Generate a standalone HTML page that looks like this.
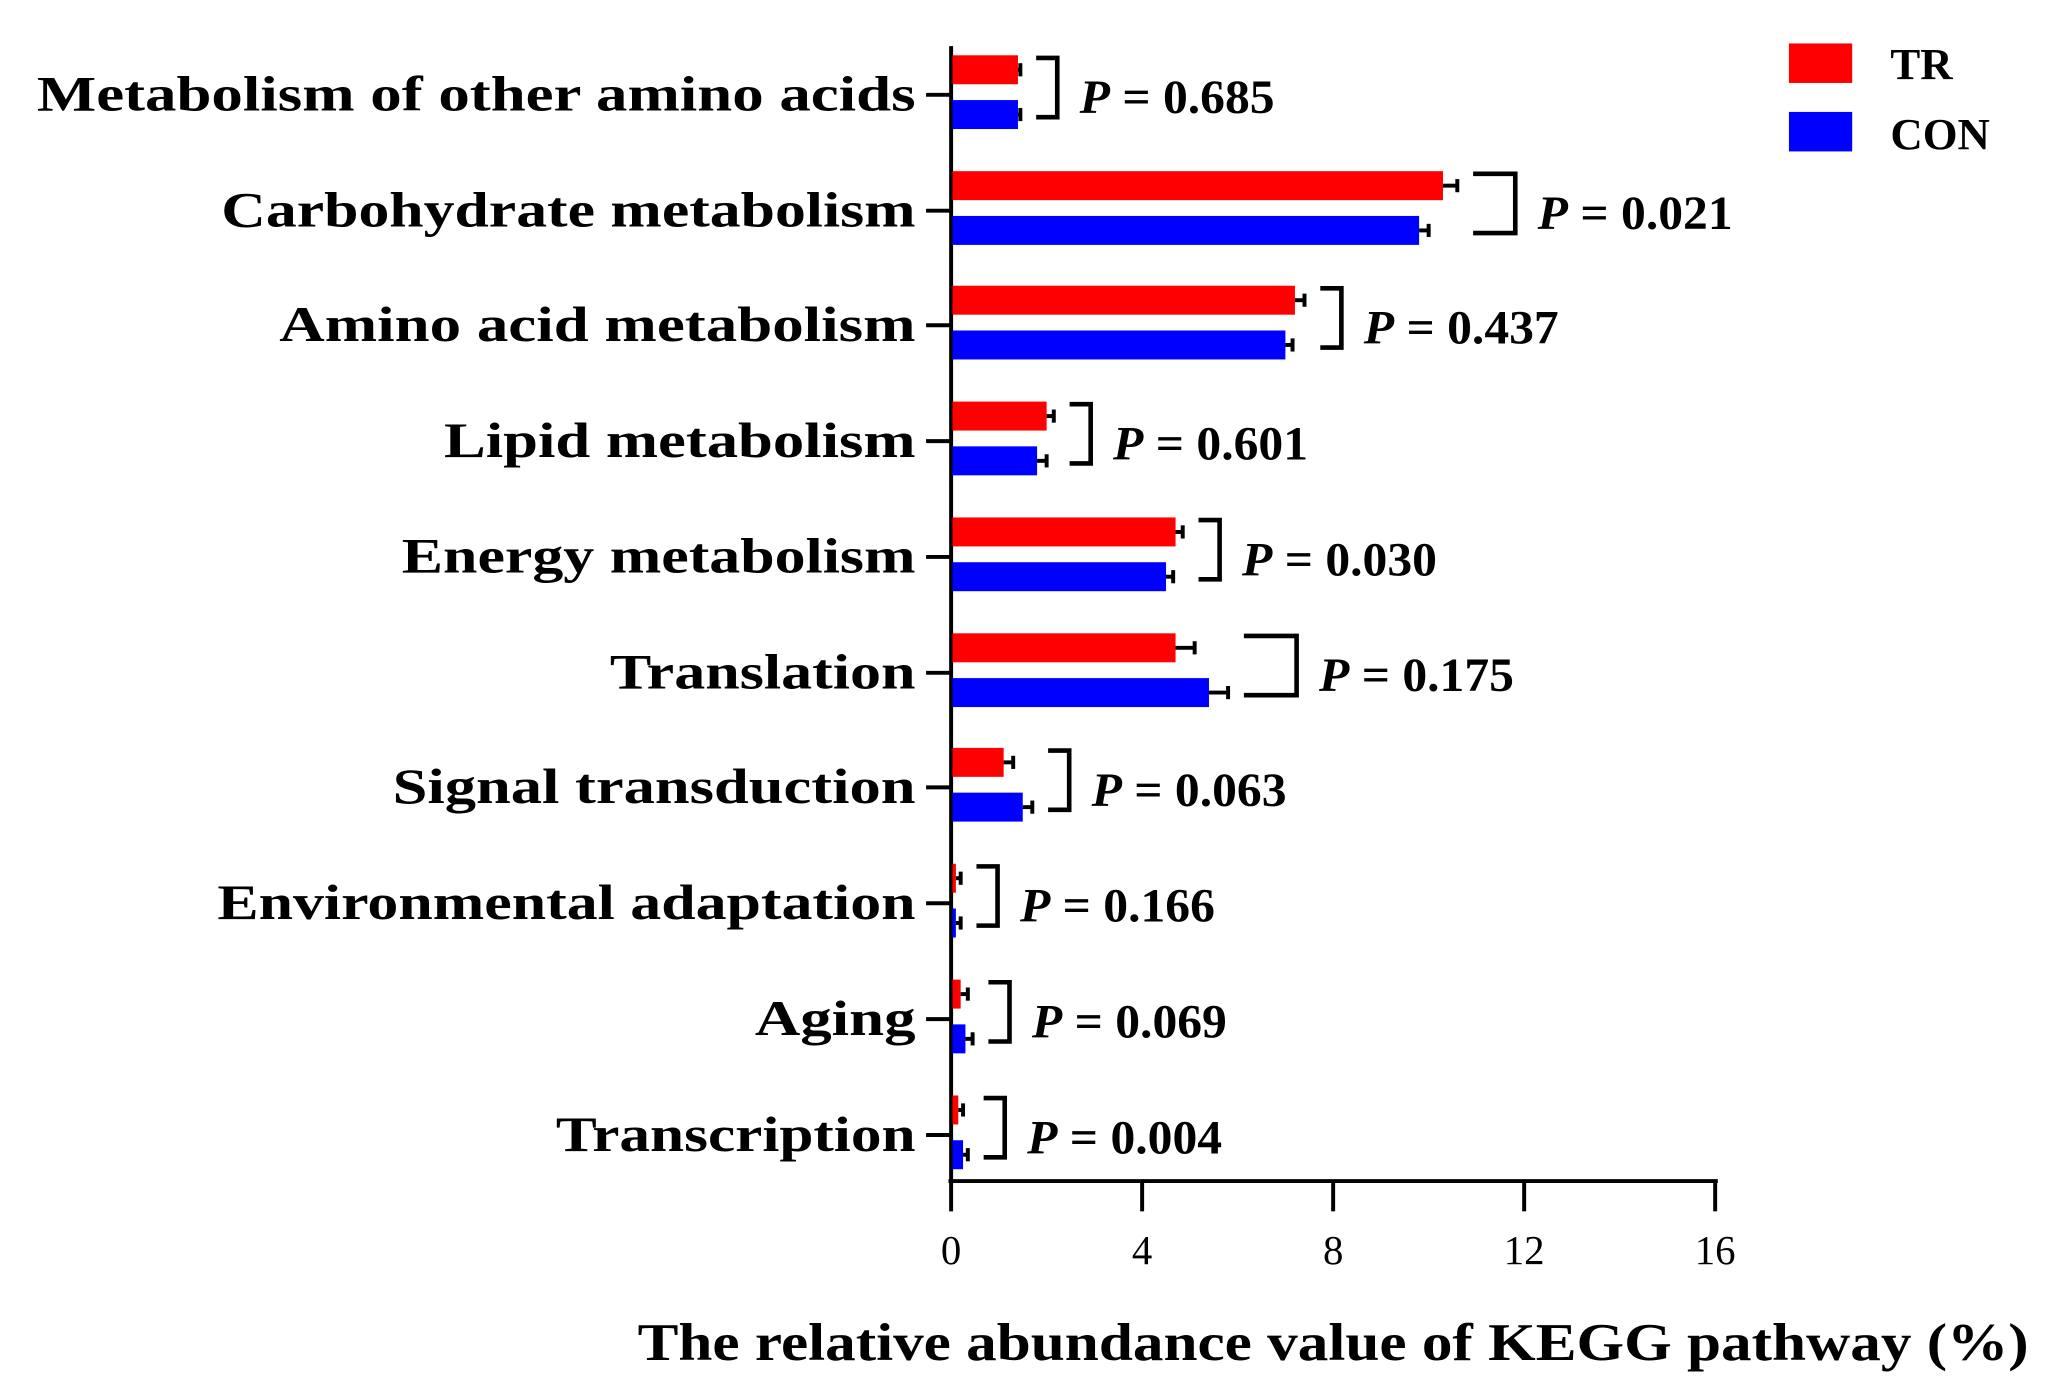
<!DOCTYPE html>
<html><head><meta charset="utf-8"><style>html,body{margin:0;padding:0;background:#fff}svg{display:block}</style></head>
<body>
<svg width="2059" height="1397" viewBox="0 0 1563 1061" preserveAspectRatio="none" xmlns="http://www.w3.org/2000/svg">
<g font-family="Liberation Serif, serif" fill="#000">
<line x1="722" y1="35" x2="722" y2="899" stroke="#000" stroke-width="3"/>
<line x1="720" y1="897" x2="1304" y2="897" stroke="#000" stroke-width="3"/>
<g stroke="#000" stroke-width="3">
<line x1="722" y1="897" x2="722" y2="920"/><line x1="867" y1="897" x2="867" y2="920"/><line x1="1012" y1="897" x2="1012" y2="920"/><line x1="1157" y1="897" x2="1157" y2="920"/><line x1="1302" y1="897" x2="1302" y2="920"/>
</g>
<g font-size="31" text-anchor="middle">
<text x="722" y="960">0</text><text x="867" y="960">4</text><text x="1012" y="960">8</text><text x="1157" y="960">12</text><text x="1302" y="960">16</text>
</g>
<text x="484" y="1033" font-size="40" font-weight="bold" textLength="1056" lengthAdjust="spacingAndGlyphs">The relative abundance value of KEGG pathway (%)</text>
<rect x="1358" y="33" width="48" height="30" fill="#ff0000"/>
<rect x="1358" y="85" width="48" height="30" fill="#0000ff"/>
<text x="1435" y="60" font-size="34" font-weight="bold">TR</text>
<text x="1435" y="113" font-size="34" font-weight="bold">CON</text>
<g id="rows"></g>
</g>
</svg>
<script>
var rows=[
["Metabolism of other amino acids",28,72,1.4,1.4,"0.685"],
["Carbohydrate metabolism",168,160,10.3,9.8,"0.021"],
["Amino acid metabolism",212,247,7.2,7.0,"0.437"],
["Lipid metabolism",337,335,2.0,1.8,"0.601"],
["Energy metabolism",305,423,4.7,4.5,"0.030"],
["Translation",463,511,4.7,5.4,"0.175"],
["Signal transduction",298,598,1.1,1.5,"0.063"],
["Environmental adaptation",165,686,0.1,0.1,"0.166"],
["Aging",573,774,0.2,0.3,"0.069"],
["Transcription",422,862,0.15,0.25,"0.004"]];
var errs=[[0.05,0.05],[0.3,0.2],[0.2,0.15],[0.15,0.2],[0.15,0.15],[0.4,0.4],[0.2,0.2],[0.1,0.1],[0.15,0.15],[0.1,0.1]];
var s="";var X=function(v){return 722+v*36.25};
rows.forEach(function(r,i){
 var y=r[2];
 s+='<text x="695" y="'+(y+12)+'" font-size="38" font-weight="bold" text-anchor="end" textLength="'+(695-r[1])+'" lengthAdjust="spacingAndGlyphs">'+r[0]+'</text>';
 s+='<line x1="703" y1="'+y+'" x2="722" y2="'+y+'" stroke="#000" stroke-width="3"/>';
 var xr=X(r[3]),xb=X(r[4]);
 s+='<rect x="723" y="'+(y-30)+'" width="'+(xr-723)+'" height="22" fill="#ff0000"/>';
 s+='<rect x="723" y="'+(y+4)+'" width="'+(xb-723)+'" height="22" fill="#0000ff"/>';
 var er=X(r[3]+errs[i][0]),eb=X(r[4]+errs[i][1]);
 s+='<line x1="'+xr+'" y1="'+(y-19)+'" x2="'+er+'" y2="'+(y-19)+'" stroke="#000" stroke-width="3"/><line x1="'+er+'" y1="'+(y-24)+'" x2="'+er+'" y2="'+(y-14)+'" stroke="#000" stroke-width="3"/>';
 s+='<line x1="'+xb+'" y1="'+(y+15)+'" x2="'+eb+'" y2="'+(y+15)+'" stroke="#000" stroke-width="3"/><line x1="'+eb+'" y1="'+(y+10)+'" x2="'+eb+'" y2="'+(y+20)+'" stroke="#000" stroke-width="3"/>';
 var bl=Math.max(er,eb)+12, br=bl+16+(i==5?24:0)+(i==1?16:0);
 s+='<polyline points="'+bl+','+(y-28)+' '+br+','+(y-28)+' '+br+','+(y+17)+' '+bl+','+(y+17)+'" fill="none" stroke="#000" stroke-width="3.5"/>';
 s+='<text x="'+(br+17)+'" y="'+(y+14)+'" font-size="36" font-weight="bold" textLength="148" lengthAdjust="spacingAndGlyphs"><tspan font-style="italic">P</tspan> = '+r[5]+'</text>';
});
document.getElementById("rows").innerHTML=s;
</script>
</body></html>
